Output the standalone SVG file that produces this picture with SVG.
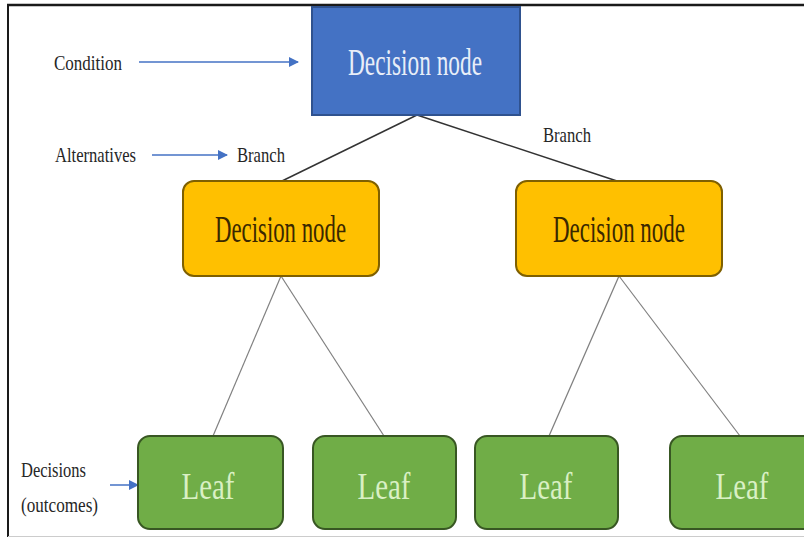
<svg xmlns="http://www.w3.org/2000/svg" width="804" height="538" viewBox="0 0 804 538">
  <style>
    text { font-family: 'Liberation Serif', 'DejaVu Serif', serif; }
    .lbl { font-size: 22px; fill: #262626; }
    .nt { font-size: 38px; text-anchor: middle; }
    .blue { fill: #4472C4; stroke: #2F528F; stroke-width: 2; }
    .yellow { fill: #FFC000; stroke: #7F6000; stroke-width: 2; }
    .green { fill: #70AD47; stroke: #385723; stroke-width: 2; }
    .conn-top { stroke: #333333; stroke-width: 1.5; fill: none; }
    .conn-low { stroke: #808080; stroke-width: 1.2; fill: none; }
    .arrow { stroke: #4472C4; stroke-width: 1.5; fill: none; marker-end: url(#ah); }
  </style>
  <defs>
    <marker id="ah" markerUnits="userSpaceOnUse" markerWidth="10" markerHeight="10" refX="9" refY="5" orient="auto">
      <path d="M0,0 L10,5 L0,10 Z" fill="#4472C4"/>
    </marker>
  </defs>
  <rect x="0" y="0" width="804" height="538" fill="#ffffff"/>
  <!-- frame -->
  <line x1="7" y1="5" x2="804" y2="5" stroke="#1a1a1a" stroke-width="2.5"/>
  <line x1="8" y1="4" x2="8" y2="537" stroke="#1a1a1a" stroke-width="2"/>
  <line x1="8" y1="536.5" x2="804" y2="536.5" stroke="#cccccc" stroke-width="1"/>

  <g id="connectors">
    <line class="conn-top" x1="417" y1="115" x2="282" y2="181"/>
    <line class="conn-top" x1="417" y1="115" x2="617" y2="181"/>
    <line class="conn-low" x1="281" y1="276" x2="213" y2="436"/>
    <line class="conn-low" x1="281" y1="276" x2="384" y2="436"/>
    <line class="conn-low" x1="619" y1="276" x2="549" y2="436"/>
    <line class="conn-low" x1="619" y1="276" x2="740" y2="436"/>
    <line class="arrow" x1="139" y1="62" x2="298" y2="62"/>
    <line class="arrow" x1="152" y1="155" x2="227" y2="155"/>
    <line class="arrow" x1="110" y1="485" x2="138" y2="485"/>
  </g>

  <g id="labels" font-family="'Liberation Serif', 'DejaVu Serif', serif">
    <text class="lbl" x="54" y="70" textLength="68" lengthAdjust="spacingAndGlyphs">Condition</text>
    <text class="lbl" x="55" y="162" textLength="81" lengthAdjust="spacingAndGlyphs">Alternatives</text>
    <text class="lbl" x="237" y="162" textLength="48" lengthAdjust="spacingAndGlyphs">Branch</text>
    <text class="lbl" x="543" y="142" textLength="48" lengthAdjust="spacingAndGlyphs">Branch</text>
    <text class="lbl" x="21" y="477" textLength="65" lengthAdjust="spacingAndGlyphs">Decisions</text>
    <text class="lbl" x="21" y="512" textLength="77" lengthAdjust="spacingAndGlyphs">(outcomes)</text>
  </g>

  <g id="root">
    <rect class="blue" x="312" y="7" width="208" height="108"/>
    <text class="nt" x="415" y="75" fill="#E8EEF8" textLength="134" lengthAdjust="spacingAndGlyphs">Decision node</text>
  </g>

  <g id="decision-left">
    <rect class="yellow" x="183" y="181" width="196" height="95" rx="11"/>
    <text class="nt" x="280.5" y="242" fill="#3a2800" textLength="131" lengthAdjust="spacingAndGlyphs">Decision node</text>
  </g>

  <g id="decision-right">
    <rect class="yellow" x="516" y="181" width="206" height="95" rx="11"/>
    <text class="nt" x="619" y="242" fill="#3a2800" textLength="132" lengthAdjust="spacingAndGlyphs">Decision node</text>
  </g>

  <g id="leaf-1">
    <rect class="green" x="138" y="436" width="145" height="93" rx="12"/>
    <text class="nt" x="208" y="499" fill="#D9F0C4" textLength="53" lengthAdjust="spacingAndGlyphs">Leaf</text>
  </g>
  <g id="leaf-2">
    <rect class="green" x="313" y="436" width="143" height="93" rx="12"/>
    <text class="nt" x="384" y="499" fill="#D9F0C4" textLength="53" lengthAdjust="spacingAndGlyphs">Leaf</text>
  </g>
  <g id="leaf-3">
    <rect class="green" x="475" y="436" width="143" height="93" rx="12"/>
    <text class="nt" x="546" y="499" fill="#D9F0C4" textLength="53" lengthAdjust="spacingAndGlyphs">Leaf</text>
  </g>
  <g id="leaf-4">
    <rect class="green" x="670" y="436" width="145" height="93" rx="12"/>
    <text class="nt" x="742" y="499" fill="#D9F0C4" textLength="53" lengthAdjust="spacingAndGlyphs">Leaf</text>
  </g>
</svg>
